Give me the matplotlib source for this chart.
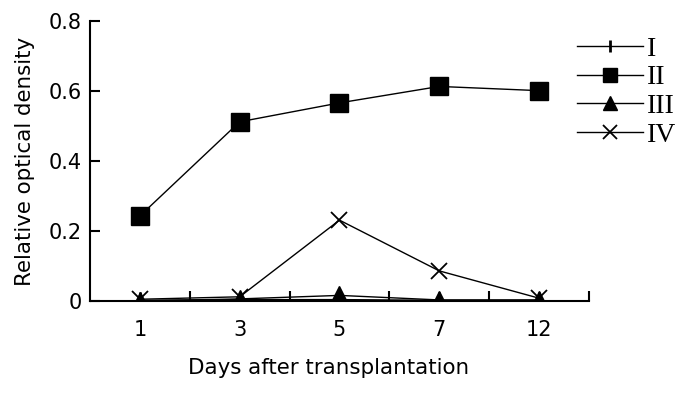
import matplotlib
matplotlib.use('Agg')
import matplotlib.pyplot as plt
import numpy as np

days = ['1', '3', '5', '7', '12']
grp_I = [0.002, 0.004, 0.004, 0.002, 0.002]
grp_II = [0.243, 0.512, 0.566, 0.613, 0.601]
grp_III = [0.0, 0.006, 0.016, 0.003, 0.003]
grp_IV = [0.005, 0.012, 0.231, 0.086, 0.008]
labels = ['I', 'II', 'III', 'IV']

plt.rcParams['font.family'] = 'DejaVu Sans'

fig = plt.figure(figsize=(6.88, 3.96), dpi=100)
ax = fig.add_axes([0.1308, 0.2399, 0.7253, 0.7071])

x = np.arange(len(days))
ax.plot(x, grp_I, '-', color='black', lw=1, marker='|', ms=11, mew=2, label=labels[0])
ax.plot(x, grp_II, '-', color='black', lw=1, marker='s', ms=13, label=labels[1])
ax.plot(x, grp_III, '-', color='black', lw=1, marker='^', ms=13, label=labels[2])
ax.plot(x, grp_IV, '-', color='black', lw=1, marker='x', ms=12, mew=1.3, label=labels[3])

ax.set_xlim(-0.5, 4.5)
ax.set_ylim(0, 0.8)
ax.set_yticks([0, 0.2, 0.4, 0.6, 0.8])
ax.set_yticklabels(['0', '0.2', '0.4', '0.6', '0.8'])
ax.set_xticks(x)
ax.set_xticklabels(days)
ax.set_xticks(np.arange(0.5, 5, 1), minor=True)
ax.tick_params(axis='x', which='major', length=0, labelsize=15, pad=14)
ax.tick_params(axis='x', which='minor', direction='in', length=7, width=1.5)
ax.tick_params(axis='y', direction='in', length=7, width=1.5, labelsize=15, pad=6)

for s in ['top', 'right']:
    ax.spines[s].set_visible(False)
for s in ['left', 'bottom']:
    ax.spines[s].set_linewidth(1.5)

ax.set_xlabel('Days after transplantation', fontsize=15.4, labelpad=13)
ax.xaxis.label.set_x(0.479)
ax.set_ylabel('Relative optical density', fontsize=15.4, labelpad=10)

leg = ax.legend(loc='upper left', bbox_to_anchor=(0.925, 1.035), frameon=False,
                handlelength=2.4, handletextpad=0.15, labelspacing=0.12, numpoints=1,
                prop={'family': 'Liberation Serif', 'size': 20}, markerscale=0.8)

fig.savefig('out.png', dpi=100)
